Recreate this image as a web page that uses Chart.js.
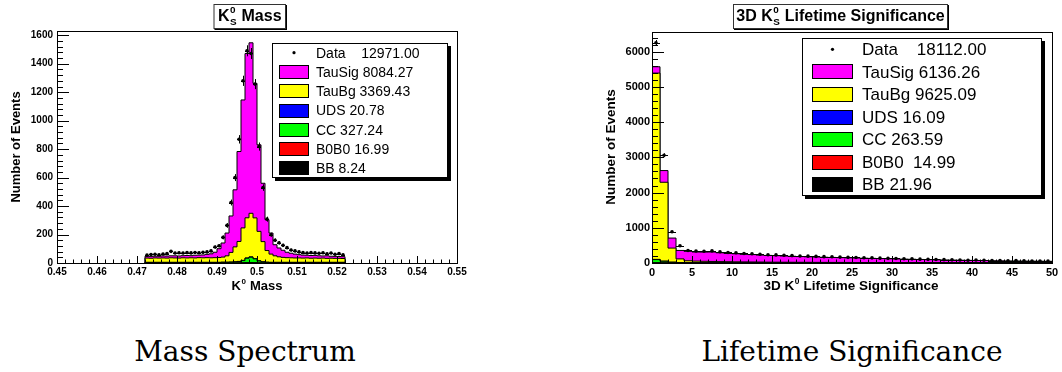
<!DOCTYPE html>
<html>
<head>
<meta charset="utf-8">
<title>K0 histograms</title>
<script src="https://cdn.jsdelivr.net/npm/chart.js@4.4.1/dist/chart.umd.min.js"></script>
<style>
  body { margin: 0; background: #fff; width: 1062px; height: 372px; position: relative; overflow: hidden; }
  canvas { position: absolute; top: 0; }
  #massChart { left: 0; }
  #lifeChart { left: 590px; }
  .caption { position: absolute; top: 338px; line-height: 28px; font-family: "DejaVu Serif", serif; font-size: 28px; white-space: nowrap; transform: translateX(-50%); color: #000; }
</style>
</head>
<body>
<canvas id="massChart" width="470" height="300"></canvas>
<canvas id="lifeChart" width="472" height="300"></canvas>
<div class="caption" style="left:245px">Mass Spectrum</div>
<div class="caption" style="left:852px">Lifetime Significance</div>

<script>
// K0 mass: 50 bins of 0.001 from 0.472 to 0.522
const massLow = 0.472
const massBin = 0.001
const massData = [55, 60, 62, 58, 63, 66, 82, 70, 72, 70,
    73, 71, 74, 72, 75, 78, 85, 112, 121, 180,
    264, 425, 600, 869, 1280, 1491, 1472, 1257, 818, 530,
    308, 199, 160, 142, 124, 108, 91, 85, 78, 73,
    70, 73, 71, 68, 72, 65, 70, 62, 66, 58]
const massTauSig = [13, 13, 12, 13, 14, 14, 14, 15, 15, 15,
    17, 15, 19, 18, 20, 23, 28, 38, 62, 99,
    160, 256, 401, 632, 899, 1154, 1198, 945, 608, 410,
    217, 148, 78, 62, 50, 38, 32, 27, 23, 21,
    19, 19, 19, 17, 15, 18, 14, 14, 13, 13]
const massTauBg = [30, 29, 31, 30, 31, 30, 32, 31, 30, 32,
    31, 32, 31, 33, 32, 33, 32, 33, 34, 36,
    45, 68, 105, 140, 228, 282, 306, 286, 207, 142,
    82, 58, 46, 39, 35, 33, 32, 31, 31, 30,
    31, 29, 30, 29, 30, 28, 29, 28, 28, 27]
const massUDS = [0.25, 0.25, 0.25, 0.25, 0.25, 0.25, 0.25, 0.25, 0.25, 0.25,
    0.25, 0.25, 0.25, 0.25, 0.25, 0.25, 0.25, 0.25, 0.25, 0.25,
    0.25, 0.25, 0.5, 1, 1.6, 2, 2.2, 1.8, 1, 0.5,
    0.25, 0.25, 0.25, 0.25, 0.25, 0.25, 0.25, 0.25, 0.25, 0.25,
    0.25, 0.25, 0.25, 0.25, 0.25, 0.25, 0.25, 0.25, 0.25, 0.25]
const massCC = [4, 4, 4, 4, 4, 4, 4, 4, 4, 4,
    4, 4, 4, 4, 4, 4, 4, 4, 4, 5,
    5, 6, 7, 9, 15, 31, 38, 27, 13, 7,
    5, 4, 4, 4, 4, 4, 4, 4, 4, 4,
    4, 4, 4, 4, 4, 4, 4, 4, 4, 4]
const massB0B0 = [0.2, 0.2, 0.2, 0.2, 0.2, 0.2, 0.2, 0.2, 0.2, 0.2,
    0.2, 0.2, 0.2, 0.2, 0.2, 0.2, 0.2, 0.2, 0.2, 0.2,
    0.2, 0.2, 0.4, 0.8, 1.2, 1.6, 1.8, 1.4, 0.8, 0.4,
    0.2, 0.2, 0.2, 0.2, 0.2, 0.2, 0.2, 0.2, 0.2, 0.2,
    0.2, 0.2, 0.2, 0.2, 0.2, 0.2, 0.2, 0.2, 0.2, 0.2]
const massBB = [0.08, 0.08, 0.08, 0.08, 0.08, 0.08, 0.08, 0.08, 0.08, 0.08,
    0.08, 0.08, 0.08, 0.08, 0.08, 0.08, 0.08, 0.08, 0.08, 0.08,
    0.08, 0.08, 0.3, 0.5, 0.8, 1.0, 1.1, 0.9, 0.5, 0.3,
    0.08, 0.08, 0.08, 0.08, 0.08, 0.08, 0.08, 0.08, 0.08, 0.08,
    0.08, 0.08, 0.08, 0.08, 0.08, 0.08, 0.08, 0.08, 0.08, 0.08]

// 3D lifetime significance: 50 unit bins from 0 to 50
const lifeLow = 0
const lifeBin = 1
const lifeData = [6253, 3061, 887, 490, 357, 340, 335, 345, 318, 300,
    292, 270, 262, 248, 235, 230, 218, 210, 200, 195,
    188, 180, 176, 168, 160, 158, 150, 146, 138, 132,
    128, 120, 118, 110, 104, 100, 95, 90, 86, 80,
    84, 76, 70, 68, 64, 70, 60, 58, 55, 52]
const lifeTauSig = [180, 332, 285, 240, 268, 259, 263, 269, 251, 234,
    229, 214, 209, 198, 191, 185, 176, 169, 162, 157,
    152, 146, 142, 136, 131, 128, 122, 118, 112, 108,
    104, 100, 96, 90, 86, 81, 77, 74, 70, 66,
    65, 61, 57, 54, 52, 51, 48, 46, 45, 43]
const lifeTauBg = [5290, 2240, 400, 105, 60, 50, 44, 40, 36, 33,
    30, 28, 26, 24, 22, 21, 20, 19, 18, 17,
    16, 15, 14, 14, 13, 12, 12, 11, 11, 10,
    10, 9, 9, 9, 8, 8, 8, 7, 7, 7,
    6, 6, 6, 6, 5, 5, 5, 5, 4, 4]
const lifeUDS = [6, 3, 1, 0.13, 0.13, 0.13, 0.13, 0.13, 0.13, 0.13,
    0.13, 0.13, 0.13, 0.13, 0.13, 0.13, 0.13, 0.13, 0.13, 0.13,
    0.13, 0.13, 0.13, 0.13, 0.13, 0.13, 0.13, 0.13, 0.13, 0.13,
    0.13, 0.13, 0.13, 0.13, 0.13, 0.13, 0.13, 0.13, 0.13, 0.13,
    0.13, 0.13, 0.13, 0.13, 0.13, 0.13, 0.13, 0.13, 0.13, 0.13]
const lifeCC = [90, 45, 20, 10, 3, 3, 3, 3, 3, 3,
    3, 3, 3, 3, 2, 2, 2, 2, 2, 2,
    2, 2, 2, 2, 2, 2, 2, 2, 2, 2,
    1, 1, 1, 1, 1, 1, 1, 1, 1, 1,
    1, 1, 1, 1, 1, 1, 1, 1, 1, 1]
const lifeB0B0 = [3, 2, 1, 0.5, 0.2, 0.2, 0.2, 0.2, 0.2, 0.2,
    0.2, 0.2, 0.2, 0.2, 0.2, 0.2, 0.2, 0.2, 0.2, 0.2,
    0.2, 0.2, 0.2, 0.2, 0.2, 0.2, 0.2, 0.2, 0.2, 0.2,
    0.2, 0.2, 0.2, 0.2, 0.2, 0.2, 0.2, 0.2, 0.2, 0.2,
    0.2, 0.2, 0.2, 0.2, 0.2, 0.2, 0.2, 0.2, 0.2, 0.2]
const lifeBB = [4, 3, 1.5, 1, 0.27, 0.27, 0.27, 0.27, 0.27, 0.27,
    0.27, 0.27, 0.27, 0.27, 0.27, 0.27, 0.27, 0.27, 0.27, 0.27,
    0.27, 0.27, 0.27, 0.27, 0.27, 0.27, 0.27, 0.27, 0.27, 0.27,
    0.27, 0.27, 0.27, 0.27, 0.27, 0.27, 0.27, 0.27, 0.27, 0.27,
    0.27, 0.27, 0.27, 0.27, 0.27, 0.27, 0.27, 0.27, 0.27, 0.27]

const massXTicks = [0.45, 0.46, 0.47, 0.48, 0.49, 0.5, 0.51, 0.52, 0.53, 0.54, 0.55]
const massYTicks = [0, 200, 400, 600, 800, 1000, 1200, 1400, 1600]
const lifeXTicks = [0, 5, 10, 15, 20, 25, 30, 35, 40, 45, 50]
const lifeYTicks = [0, 1000, 2000, 3000, 4000, 5000, 6000]

const massLegend = ["Data    12971.00", "TauSig 8084.27", "TauBg 3369.43", "UDS 20.78", "CC 327.24", "B0B0 16.99", "BB 8.24"]
const lifeLegend = ["Data    18112.00", "TauSig 6136.26", "TauBg 9625.09", "UDS 16.09", "CC 263.59", "B0B0  14.99", "BB 21.96"]

// legend order: TauSig, TauBg, UDS, CC, B0B0, BB
const sampleColors = ["#ff00ff", "#ffff00", "#0000ff", "#00ff00", "#ff0000", "#000000"]

const FONT = '"Liberation Sans", Arial, Helvetica, sans-serif'

// running sums, bottom layer first
function stackUp(layers) {
    const sums = []
    let run = layers[0].map(() => 0)
    layers.forEach(layer => {
        run = run.map((v, i) => v + layer[i])
        sums.push(run)
    })
    return sums
}

// outline of a histogram: low edge of every bin, closed down to zero at both ends
function stepPoints(values, low, width) {
    const pts = [{x: low, y: 0}]
    values.forEach((v, i) => pts.push({x: low + i * width, y: v}))
    pts.push({x: low + values.length * width, y: 0})
    return pts
}

function histDatasets(data, samples, low, width) {
    // THStack order, bottom first: BB, B0B0, CC, UDS, TauBg, TauSig
    const layers = [
        {values: samples[5], color: sampleColors[5]},
        {values: samples[4], color: sampleColors[4]},
        {values: samples[3], color: sampleColors[3]},
        {values: samples[2], color: sampleColors[2]},
        {values: samples[1], color: sampleColors[1]},
        {values: samples[0], color: sampleColors[0]},
    ]
    const sums = stackUp(layers.map(l => l.values))
    const sets = [{
        data: data.map((n, i) => ({x: low + (i + 0.5) * width, y: n})),
        showLine: false,
        pointRadius: 1.8,
        pointBackgroundColor: "#000",
        pointBorderWidth: 0,
        fill: false,
    }]
    layers.forEach((l, k) => {
        sets.push({
            data: stepPoints(sums[k], low, width),
            // horizontal first, then down/up to the next bin
            stepped: "before",
            fill: "origin",
            backgroundColor: l.color,
            borderColor: "#000",
            borderWidth: 1,
            pointRadius: 0,
        })
    })
    return sets
}

// per-canvas decorations (ROOT style frame, title box, legend)
const pads = {
    massChart: {
        data: massData, low: massLow, width: massBin,
        xTicks: massXTicks, xMinor: 0.002, yTicks: massYTicks, yMinor: 40,
        title: ["K", {sup: "0", sub: "S"}, " Mass"], titleBox: [213.5, 4, 72.5, 25], titleSize: 16,
        xTitle: ["K", {sup: "0"}, " Mass"], xTitlePos: [257, 290],
        yTitlePos: [16.5, 147], axisTitleSize: 13,
        legend: {x: 272, y: 43, w: 176, h: 135, swX: 279, swW: 30, swH: 14, textX: 316, size: 14, labels: massLegend},
    },
    lifeChart: {
        data: lifeData, low: lifeLow, width: lifeBin,
        xTicks: lifeXTicks, xMinor: 1, yTicks: lifeYTicks, yMinor: 200,
        title: ["3D K", {sup: "0", sub: "S"}, " Lifetime Significance"], titleBox: [143, 4, 215, 25], titleSize: 16,
        xTitle: ["3D K", {sup: "0"}, " Lifetime Significance"], xTitlePos: [261, 290],
        yTitlePos: [21, 147], axisTitleSize: 13.5,
        legend: {x: 212, y: 38, w: 240, h: 158, swX: 222, swW: 41, swH: 15, textX: 272, size: 17, labels: lifeLegend},
    },
}

function richWidth(ctx, parts, size) {
    let w = 0
    parts.forEach(p => {
        if (typeof p === "string") {
            ctx.font = `bold ${size}px ${FONT}`
            w += ctx.measureText(p).width
        } else {
            ctx.font = `bold ${size * 0.62}px ${FONT}`
            w += Math.max(ctx.measureText(p.sup || "").width, ctx.measureText(p.sub || "").width) + 1
        }
    })
    return w
}

// text with stacked super/subscripts, centred on x, y is the baseline
function drawRich(ctx, parts, x, y, size) {
    let cx = x - richWidth(ctx, parts, size) / 2
    ctx.textAlign = "left"
    ctx.textBaseline = "alphabetic"
    parts.forEach(p => {
        if (typeof p === "string") {
            ctx.font = `bold ${size}px ${FONT}`
            ctx.fillText(p, cx, y)
            cx += ctx.measureText(p).width
        } else {
            ctx.font = `bold ${size * 0.62}px ${FONT}`
            cx += 0.5
            if (p.sup) ctx.fillText(p.sup, cx, y - size * 0.46)
            if (p.sub) ctx.fillText(p.sub, cx, y + size * 0.27)
            cx += Math.max(ctx.measureText(p.sup || "").width, ctx.measureText(p.sub || "").width) + 0.5
        }
    })
}

const rootPad = {
    id: "rootPad",
    afterDatasetsDraw(chart) {
        const pad = pads[chart.canvas.id]
        const {ctx, chartArea} = chart
        const xs = chart.scales.x, ys = chart.scales.y
        ctx.save()
        ctx.beginPath()
        ctx.rect(chartArea.left, chartArea.top, chartArea.width, chartArea.height)
        ctx.clip()
        ctx.strokeStyle = "#000"
        ctx.lineWidth = 1
        // horizontal bar = bin width, vertical bar = sqrt(N)
        pad.data.forEach((n, i) => {
            const lo = pad.low + i * pad.width
            const x0 = xs.getPixelForValue(lo), x1 = xs.getPixelForValue(lo + pad.width)
            const xc = Math.round((x0 + x1) / 2) + 0.5
            const y = Math.round(ys.getPixelForValue(n)) + 0.5
            const err = Math.sqrt(n)
            ctx.beginPath()
            ctx.moveTo(x0, y)
            ctx.lineTo(x1, y)
            ctx.moveTo(xc, ys.getPixelForValue(n - err))
            ctx.lineTo(xc, ys.getPixelForValue(n + err))
            ctx.stroke()
        })
        ctx.restore()
    },
    afterDraw(chart) {
        const pad = pads[chart.canvas.id]
        const {ctx, chartArea: a} = chart
        const xs = chart.scales.x, ys = chart.scales.y
        ctx.save()
        ctx.strokeStyle = "#000"
        ctx.fillStyle = "#000"
        ctx.lineWidth = 1

        // frame
        ctx.strokeRect(Math.round(a.left) + 0.5, Math.round(a.top) + 0.5, Math.round(a.width), Math.round(a.height))

        // inward ticks on the left and bottom axes
        const yTick = (v, len) => {
            const y = Math.round(ys.getPixelForValue(v)) + 0.5
            ctx.moveTo(a.left, y)
            ctx.lineTo(a.left + len, y)
        }
        const xTick = (v, len) => {
            const x = Math.round(xs.getPixelForValue(v)) + 0.5
            ctx.moveTo(x, a.bottom)
            ctx.lineTo(x, a.bottom - len)
        }
        ctx.beginPath()
        pad.yTicks.forEach(v => yTick(v, 12))
        for (let v = ys.min; v <= ys.max; v += pad.yMinor) yTick(v, 6)
        pad.xTicks.forEach(v => xTick(v, 7))
        const nMinor = Math.round((xs.max - xs.min) / pad.xMinor)
        for (let k = 0; k <= nMinor; k++) xTick(xs.min + k * pad.xMinor, 3.5)
        ctx.stroke()

        // title box
        const [bx, by, bw, bh] = pad.titleBox
        ctx.fillStyle = "#000"
        ctx.fillRect(bx + 1, by + 1, bw, bh)
        ctx.fillStyle = "#fff"
        ctx.fillRect(bx, by, bw, bh)
        ctx.strokeStyle = "#333"
        ctx.strokeRect(bx + 0.5, by + 0.5, bw - 1, bh - 1)
        ctx.fillStyle = "#000"
        drawRich(ctx, pad.title, bx + bw / 2, by + 16.7, pad.titleSize)

        // axis titles
        drawRich(ctx, pad.xTitle, pad.xTitlePos[0], pad.xTitlePos[1], pad.axisTitleSize)
        ctx.save()
        ctx.translate(pad.yTitlePos[0], pad.yTitlePos[1])
        ctx.rotate(-Math.PI / 2)
        ctx.font = `bold ${pad.axisTitleSize}px ${FONT}`
        ctx.textAlign = "center"
        ctx.textBaseline = "middle"
        ctx.fillText("Number of Events", 0, 0)
        ctx.restore()

        // legend with shadow
        const L = pad.legend
        ctx.fillStyle = "#000"
        ctx.fillRect(L.x + 3, L.y + 3, L.w, L.h)
        ctx.fillStyle = "#fff"
        ctx.fillRect(L.x, L.y, L.w, L.h)
        ctx.strokeStyle = "#000"
        ctx.strokeRect(L.x + 0.5, L.y + 0.5, L.w - 1, L.h - 1)
        const rowH = L.h / L.labels.length
        ctx.font = `${L.size}px ${FONT}`
        ctx.textAlign = "left"
        ctx.textBaseline = "middle"
        L.labels.forEach((label, i) => {
            const cy = L.y + (i + 0.5) * rowH
            if (i === 0) {
                ctx.fillStyle = "#000"
                ctx.beginPath()
                ctx.arc(L.swX + L.swW / 2, cy, 1.6, 0, 2 * Math.PI)
                ctx.fill()
            } else {
                const top = Math.round(cy - L.swH / 2)
                ctx.fillStyle = sampleColors[i - 1]
                ctx.fillRect(L.swX, top, L.swW, L.swH)
                ctx.strokeStyle = "#000"
                ctx.strokeRect(L.swX + 0.5, top + 0.5, L.swW - 1, L.swH - 1)
            }
            ctx.fillStyle = "#000"
            ctx.fillText(label, L.textX, cy + 1)
        })
        ctx.restore()
    },
}

function makeChart(id, datasets, xRange, yMax, xTicks, yTicks, sizes) {
    const canvas = document.getElementById(id)
    if (canvas.chart) {
        canvas.chart.destroy()
    }
    const tickFont = {family: FONT, size: sizes.tick, weight: "bold"}
    canvas.chart = new Chart(canvas.getContext("2d"), {
        type: "line",
        data: {datasets: datasets},
        plugins: [rootPad],
        options: {
            responsive: false,
            animation: false,
            events: [],
            layout: {padding: {left: 0, right: sizes.padRight, top: sizes.padTop, bottom: 0}},
            plugins: {
                legend: {display: false},
                tooltip: {enabled: false},
                title: {display: false},
            },
            scales: {
                x: {
                    type: "linear",
                    min: xRange[0],
                    max: xRange[1],
                    grid: {display: false, drawTicks: false},
                    border: {display: false},
                    afterBuildTicks: s => { s.ticks = xTicks.map(v => ({value: v})) },
                    afterFit: s => { s.height = sizes.xAxisH },
                    ticks: {
                        color: "#000",
                        font: tickFont,
                        padding: 3,
                        maxRotation: 0,
                        autoSkip: false,
                        callback: v => String(Math.round(v * 1000) / 1000),
                    },
                },
                y: {
                    type: "linear",
                    min: 0,
                    max: yMax,
                    grid: {display: false, drawTicks: false},
                    border: {display: false},
                    afterBuildTicks: s => { s.ticks = yTicks.map(v => ({value: v})) },
                    afterFit: s => { s.width = sizes.yAxisW },
                    ticks: {
                        color: "#000",
                        font: tickFont,
                        padding: sizes.yPad,
                        autoSkip: false,
                        callback: v => String(v),
                    },
                },
            },
        },
    })
}

makeChart("massChart",
    histDatasets(massData, [massTauSig, massTauBg, massUDS, massCC, massB0B0, massBB], massLow, massBin),
    [0.45, 0.55], 1630, massXTicks, massYTicks,
    {tick: 10, padRight: 13, padTop: 31, xAxisH: 37, yAxisW: 57, yPad: 4})

makeChart("lifeChart",
    histDatasets(lifeData, [lifeTauSig, lifeTauBg, lifeUDS, lifeCC, lifeB0B0, lifeBB], lifeLow, lifeBin),
    [0, 50], 6560, lifeXTicks, lifeYTicks,
    {tick: 11, padRight: 10, padTop: 32, xAxisH: 37, yAxisW: 62, yPad: 2})
</script>
</body>
</html>
